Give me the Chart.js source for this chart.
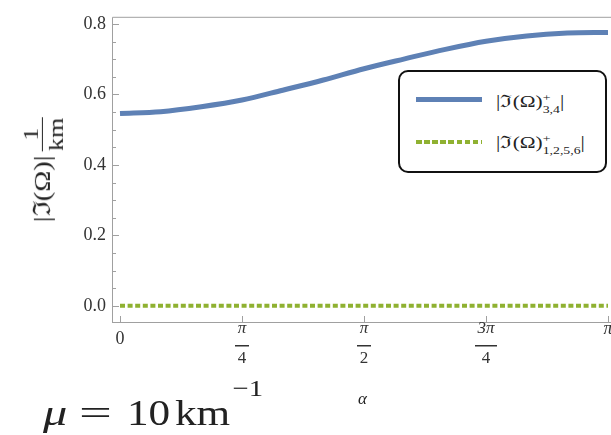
<!DOCTYPE html>
<html>
<head>
<meta charset="utf-8">
<script src="https://cdn.jsdelivr.net/npm/chart.js@4"></script>
<style>
  body { margin: 0; background: #fff; }
  #wrap { position: relative; width: 611px; height: 435px; overflow: hidden; font-family: "Liberation Serif", "DejaVu Serif", serif; color: #222; }
  #mycanvas { position: absolute; left: 0; top: 0; }
  .abs { position: absolute; white-space: nowrap; line-height: 1; }
  #legend { position: absolute; left: 398px; top: 70px; width: 205px; height: 99px; border: 2px solid #111; border-radius: 10px; background: #fff; }
  .swatch { position: absolute; left: 16px; width: 66px; }
  .ltxt { position: absolute; left: 96px; font-size: 17px; line-height: 1; white-space: nowrap; transform: scaleX(1.25); transform-origin: left center; }
  .scr { display: inline-block; vertical-align: -6px; line-height: 12px; font-size: 11px; }
  .scr span { display: block; }
  .frac { display: inline-block; vertical-align: -0.6em; text-align: center; line-height: 1.05; margin-left: 4px; }
  .frac span { display: block; }
  .frac .den { border-top: 1.3px solid #222; padding-top: 1px; }
</style>
</head>
<body>
<div id="wrap">
  <canvas id="mycanvas" width="611" height="435"></canvas>

  <div id="legend">
    <div class="swatch" style="top:25px;height:5px;background:#5E81B5;"></div>
    <div class="ltxt" style="top:19px;">|ℑ(Ω)<span class="scr"><span>+</span><span>3,4</span></span>|</div>
    <div class="swatch" style="top:68px;height:4px;background:repeating-linear-gradient(90deg,#8FB131 0 5.5px,transparent 5.5px 8.1px);"></div>
    <div class="ltxt" style="top:60px;">|ℑ(Ω)<span class="scr"><span>+</span><span>1,2,5,6</span></span>|</div>
  </div>

  <div class="abs" id="ytitle" style="left:43px;top:170px;transform:translate(-50%,-50%) rotate(-90deg) scaleX(1.18);font-size:24px;">
    |ℑ(Ω)|<span class="frac" style="font-size:22px;"><span>1</span><span class="den">km</span></span>
  </div>

  <div class="abs" style="left:358px;top:390px;font-size:17px;font-style:italic;">α</div>

  <div class="abs" id="mu" style="left:43px;top:396px;height:40px;width:220px;font-size:36px;transform:scaleX(1.2);transform-origin:left top;">
    <span class="abs" style="left:0;top:-1px;font-style:italic;transform:scaleX(1.12);transform-origin:left top;">μ</span>
    <span class="abs" style="left:30px;top:-1px;transform:scaleX(1.35);transform-origin:left top;">=</span>
    <span class="abs" style="left:70px;top:-1px;">10</span>
    <span class="abs" style="left:110px;top:-1px;">km</span>
    <span class="abs" style="left:158px;top:-20px;font-size:24px;">−1</span>
  </div>
</div>

<script>
// alpha values (multiples of pi/12)
var alphaVals = [0, 0.2618, 0.5236, 0.7854, 1.0472, 1.309, 1.5708, 1.8326, 2.0944, 2.3562, 2.618, 2.8798, 3.1416];
// |Im(Omega)|+ 3,4
var im34 = [0.546, 0.551, 0.565, 0.584, 0.612, 0.641, 0.673, 0.701, 0.728, 0.751, 0.766, 0.774, 0.776];
// |Im(Omega)|+ 1,2,5,6
var im1256 = [0, 0, 0, 0, 0, 0, 0, 0, 0, 0, 0, 0, 0];

var xTicks = [0, Math.PI / 4, Math.PI / 2, 3 * Math.PI / 4, Math.PI];
var xTickLabels = [['0'], ['π', '4'], ['π', '2'], ['3π', '4'], ['π']];
var yTicks = [0, 0.05, 0.1, 0.15, 0.2, 0.25, 0.3, 0.35, 0.4, 0.45, 0.5, 0.55, 0.6, 0.65, 0.7, 0.75, 0.8];
var yLabels = { '0': '0.0', '0.2': '0.2', '0.4': '0.4', '0.6': '0.6', '0.8': '0.8' };

var frameColor = '#a0a0a0';

var framePlugin = {
    id: 'frame',
    afterDraw: function (chart) {
        var c = chart.ctx, a = chart.chartArea;
        var xs = chart.scales.x, ys = chart.scales.y;
        c.save();
        c.strokeStyle = frameColor;
        c.lineWidth = 1;
        c.beginPath();
        c.moveTo(a.left + 0.5, a.bottom + 0.5);
        c.lineTo(a.left + 0.5, a.top + 0.5);
        c.lineTo(a.right + 2, a.top + 0.5);
        c.moveTo(a.left, a.bottom + 0.5);
        c.lineTo(a.right + 2, a.bottom + 0.5);
        // y ticks inward
        yTicks.forEach(function (v) {
            var py = Math.round(ys.getPixelForValue(v)) + 0.5;
            var major = yLabels[String(v)] !== undefined;
            c.moveTo(a.left, py);
            c.lineTo(a.left + (major ? 7 : 4), py);
        });
        // x ticks inward
        xTicks.forEach(function (v) {
            var px = Math.round(xs.getPixelForValue(v)) + 0.5;
            c.moveTo(px, a.bottom);
            c.lineTo(px, a.bottom - 6);
        });
        c.stroke();

        // x tick labels (fractions)
        c.fillStyle = '#333';
        c.textAlign = 'center';
        c.textBaseline = 'middle';
        xTicks.forEach(function (v, i) {
            var px = xs.getPixelForValue(v);
            var lab = xTickLabels[i];
            if (lab.length === 1) {
                if (lab[0] === '0') {
                    c.font = '18px "Liberation Serif", serif';
                    c.fillText(lab[0], px, 339);
                } else {
                    c.font = 'italic 18px "Liberation Serif", serif';
                    c.fillText(lab[0], px, 329);
                }
            } else {
                c.font = 'italic 17px "Liberation Serif", serif';
                c.fillText(lab[0], px, 329);
                c.fillRect(px - (lab[0].length > 1 ? 11 : 7), 345, lab[0].length > 1 ? 22 : 14, 1.5);
                c.font = '17px "Liberation Serif", serif';
                c.fillText(lab[1], px, 359);
            }
        });
        c.restore();
    }
};

var ctx_live = document.getElementById('mycanvas');
var myChart = new Chart(ctx_live, {
    type: 'line',
    data: {
        datasets: [{
            data: alphaVals.map(function (a, i) { return { x: a, y: im34[i] }; }),
            borderColor: '#5E81B5',
            borderWidth: 5,
            pointRadius: 0,
            cubicInterpolationMode: 'monotone',
            borderCapStyle: 'butt'
        }, {
            data: alphaVals.map(function (a, i) { return { x: a, y: im1256[i] }; }),
            borderColor: '#8FB131',
            borderWidth: 4,
            borderDash: [5, 2.6],
            pointRadius: 0
        }]
    },
    options: {
        responsive: false,
        animation: false,
        layout: { padding: { top: 10, right: 0, left: 0, bottom: 0 } },
        plugins: { legend: { display: false }, tooltip: { enabled: false } },
        scales: {
            x: {
                type: 'linear',
                min: -0.0515,
                max: 3.1609,
                grid: { display: false },
                border: { display: false },
                ticks: { display: false },
                afterFit: function (s) { s.height = 113; }
            },
            y: {
                type: 'linear',
                min: -0.0458,
                max: 0.8203,
                grid: { display: false, drawTicks: false },
                border: { display: false },
                afterBuildTicks: function (s) {
                    s.ticks = yTicks.map(function (v) { return { value: v }; });
                },
                ticks: {
                    padding: 6,
                    color: '#333',
                    font: { family: '"Liberation Serif", serif', size: 18 },
                    autoSkip: false,
                    callback: function (v) {
                        var k = String(Math.round(v * 100) / 100);
                        return yLabels[k] !== undefined ? yLabels[k] : '';
                    }
                },
                afterFit: function (s) { s.width = 112; }
            }
        }
    },
    plugins: [framePlugin]
});
</script>
</body>
</html>
